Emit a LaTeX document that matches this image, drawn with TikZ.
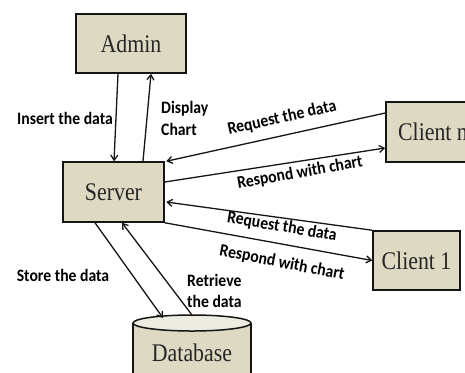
\documentclass[tikz,border=0pt]{standalone}
\usepackage{fontspec}
\setmainfont{Liberation Serif}[FakeStretch=0.86]
\newfontfamily\labfont{Carlito}[FakeStretch=0.9, BoldFont={Carlito Bold}]
\usetikzlibrary{arrows.meta}
\definecolor{boxfill}{HTML}{DDD9C3}
\definecolor{topfill}{HTML}{EEECE1}
\definecolor{ink}{HTML}{151515}
\tikzset{
  box/.style={draw=ink, line width=1.5bp, fill=boxfill, inner sep=0pt,
    text=black!85, font=\fontsize{25.5}{28}\selectfont},
  flow/.style={draw=ink, line width=1.3bp, -{Straight Barb[length=5bp,width=7bp,line width=1.3bp]}},
  lab/.style={inner sep=0pt, align=left, text=black,
    font=\labfont\bfseries\fontsize{17.5}{21.5}\selectfont},
}
\begin{document}
\begin{tikzpicture}[x=1bp, y=-1bp]
\clip (0,0) rectangle (465,372);
\fill[white] (0,0) rectangle (465,372);

% boxes
\node[box, minimum width=110bp, minimum height=59bp] (admin) at (131,43.5) {Admin};
\node[box, minimum width=101bp, minimum height=60bp] (server) at (113.5,192) {Server};
\node[box, minimum width=94bp, minimum height=60bp] (cn) at (433,132) {Client n};
\node[box, minimum width=87bp, minimum height=59bp] (c1) at (416.5,260.5) {Client 1};

% database cylinder
\draw[ink, line width=1.5bp, fill=boxfill] (133,323) -- (133,420) -- (251,420) -- (251,323);
\draw[ink, line width=1.5bp, fill=topfill] (192,323) ellipse [x radius=59, y radius=8];
\node[inner sep=0pt, font=\fontsize{25.5}{28}\selectfont, text=black!85] (db) at (192,353) {Database};
\coordinate (dbin) at (163,318);
\coordinate (dbout) at (192,315);

% admin <-> server
\draw[flow] ([xshift=-13bp]admin.south) -- ([xshift=0.5bp]server.north);
\draw[flow] ([xshift=29.5bp]server.north) -- ([xshift=20bp]admin.south);

% client n <-> server
\draw[flow] ([yshift=19bp]cn.west) -- ([xshift=1.5bp]server.north east);
\draw[flow] ([yshift=10bp]server.east) -- ([yshift=-16bp]cn.west);

% client 1 <-> server
\draw[flow] (c1.north west) -- ([xshift=1.5bp,yshift=-10bp]server.east);
\draw[flow] (server.south east) -- (c1.west);

% server <-> database
\draw[flow] ([xshift=-18.5bp]server.south) -- (dbin);
\draw[flow] (dbout) -- ([xshift=8.5bp]server.south);

% labels
\node[lab] (l1) at (65,118) {Insert the data};
\node[lab, anchor=west] (l2) at (161,118.5) {Display\\Chart};
\node[lab, rotate=12.5] (l3) at (282,118) {Request the data};
\node[lab, rotate=10] (l4) at (300,173) {Respond with chart};
\node[lab, rotate=-9.5] (l5) at (282,227) {Request the data};
\node[lab, rotate=-11] (l6) at (282,263) {Respond with chart};
\node[lab] (l7) at (63,275) {Store the data};
\node[lab, anchor=west] (l8) at (187,291) {Retrieve\\the data};
\end{tikzpicture}
\end{document}
